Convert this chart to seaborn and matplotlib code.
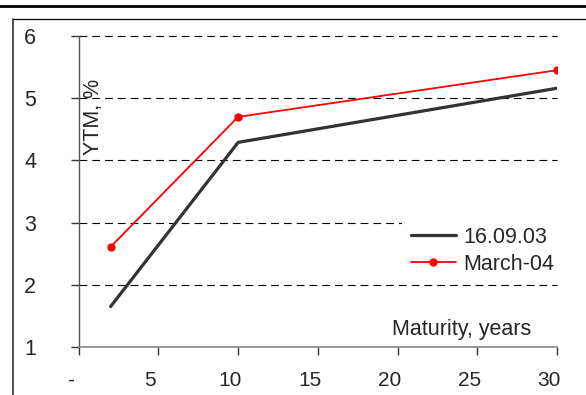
import matplotlib
matplotlib.use("Agg")
import matplotlib.pyplot as plt
from matplotlib.lines import Line2D
from matplotlib.transforms import ScaledTranslation
import seaborn as sns
import pandas as pd

# Yield curve data: maturity (years) vs yield to maturity (%)
maturity = [2, 10, 30]
ytm_sep03 = [1.65, 4.29, 5.16]
ytm_mar04 = [2.61, 4.70, 5.45]
series_names = ["16.09.03", "March-04"]

x_ticks = [0, 5, 10, 15, 20, 25, 30]
x_tick_labels = ["-", "5", "10", "15", "20", "25", "30"]
y_ticks = [1, 2, 3, 4, 5, 6]
y_tick_labels = ["1", "2", "3", "4", "5", "6"]

df = pd.DataFrame({
    "maturity": maturity * 2,
    "ytm": ytm_sep03 + ytm_mar04,
    "series": [series_names[0]] * 3 + [series_names[1]] * 3,
})

sns.set_theme(style="white")
plt.rcParams["font.family"] = ["Liberation Sans", "DejaVu Sans"]
FS = 15.5

W, H = 586, 395
fig = plt.figure(figsize=(W / 100, H / 100), dpi=100)
ax = fig.add_axes([78.7 / W, 1 - 347 / H, (557 - 78.7) / W, (347 - 36) / H])

palette = {series_names[0]: "#333333", series_names[1]: "#ff0000"}
sns.lineplot(data=df[df.series == series_names[0]], x="maturity", y="ytm",
             color=palette[series_names[0]], lw=2.3, ax=ax, legend=False,
             zorder=3)
sns.lineplot(data=df[df.series == series_names[1]], x="maturity", y="ytm",
             color=palette[series_names[1]], lw=1.3, marker="o", markersize=6,
             markeredgewidth=0, ax=ax, legend=False, zorder=4)

ax.set_xlim(0, 30)
ax.set_ylim(1, 6)
ax.set_xlabel("")
ax.set_ylabel("")
ax.set_xticks(x_ticks)
ax.set_xticklabels(x_tick_labels)
ax.set_yticks(y_ticks)
ax.set_yticklabels(y_tick_labels)

# dashed horizontal gridlines
for y in y_ticks[1:]:
    ax.axhline(y, color="black", lw=0.8, ls=(0, (7, 4.5)), zorder=1,
               clip_on=False)

for side in ["top", "right"]:
    ax.spines[side].set_visible(False)
ax.spines["left"].set_color("#555555")
ax.spines["bottom"].set_color("#888888")
ax.spines["left"].set_linewidth(1.0)
ax.spines["bottom"].set_linewidth(1.2)

ax.tick_params(axis="x", direction="out", length=5.5, width=1.0,
               color="#333333", bottom=True, labelsize=15, pad=11.5)
ax.tick_params(axis="y", direction="out", length=5.5, width=1.0,
               color="#333333", left=True, labelsize=FS, pad=25)

shift = ScaledTranslation(-8 / 100, 0, fig.dpi_scale_trans)
for lab in ax.get_xticklabels():
    lab.set_transform(lab.get_transform() + shift)

fig.text(93 / W, 1 - 117 / H, "YTM, %", rotation=90, ha="center",
         va="center", fontsize=FS)
fig.text(462 / W, 1 - 330 / H, "Maturity, years", ha="center",
         va="center", fontsize=FS)

handles = [
    Line2D([], [], color="#333333", lw=2.3),
    Line2D([], [], color="#ff0000", lw=1.3, marker="o", markersize=6,
           markeredgewidth=0),
]
leg = ax.legend(handles, series_names, loc="center left",
                bbox_to_anchor=(402 / W, 1 - 251 / H),
                bbox_transform=fig.transFigure, borderaxespad=0,
                frameon=True, fancybox=False, framealpha=1,
                edgecolor="white", fontsize=FS, handlelength=2.1,
                handletextpad=0.33, labelspacing=0.28, borderpad=0.4)
leg.get_frame().set_linewidth(0)
leg.set_zorder(5)

# page frame
fig.add_artist(Line2D([0, 1], [1 - 6 / H, 1 - 6 / H], transform=fig.transFigure,
                      color="black", lw=2))
fig.add_artist(Line2D([13 / W, 1], [1 - 19 / H, 1 - 19 / H],
                      transform=fig.transFigure, color="black", lw=0.9))
fig.add_artist(Line2D([13 / W, 13 / W], [1 - 19 / H, 0],
                      transform=fig.transFigure, color="#333333", lw=1.2))

fig.savefig("out.png", dpi=100)
